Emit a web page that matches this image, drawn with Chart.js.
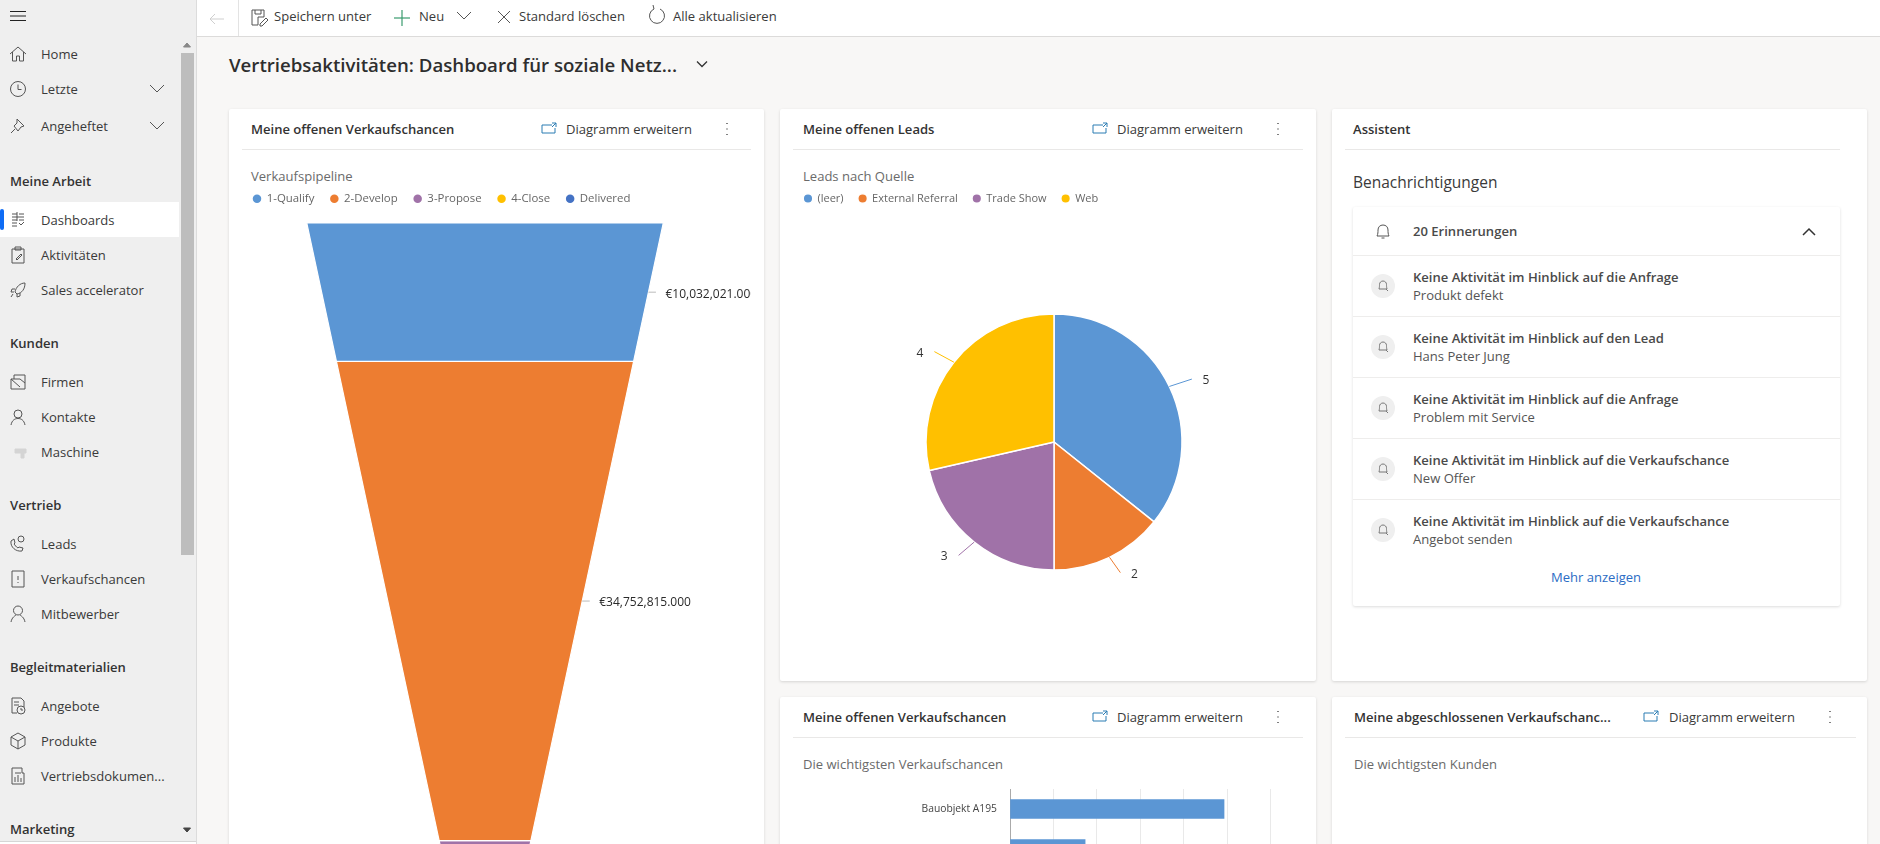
<!DOCTYPE html>
<html lang="de"><head><meta charset="utf-8">
<script src="https://cdn.jsdelivr.net/npm/chart.js@4"></script>
<style>
html,body{margin:0;width:1880px;height:844px;overflow:hidden;background:#f8f7f6;font-family:"Open Sans",sans-serif;color:#333}
.a{position:absolute}
.t{position:absolute;white-space:nowrap;transform:translateY(-50%);font-size:13.05px;line-height:18px;color:#3a3a3a}
.h{font-weight:600;color:#333}
.card{position:absolute;background:#fff;box-shadow:0 1px 3px rgba(0,0,0,.14);border-radius:2px}
canvas{position:absolute;display:block}
svg{position:absolute;overflow:visible;fill:none;stroke:#555;stroke-width:1}
</style></head><body>
<div id="root"></div>
<script>
// ---------- chart data ----------
const funnelStages = ['1-Qualify','2-Develop','3-Propose','4-Close','Delivered'];
const funnelValues = [10032021,34752815,5400000,3100000,1200000];
const funnelColors = ['#5B96D4','#ED7D31','#A072A8','#FFC000','#4472C4'];
const pieLabels = ['(leer)','External Referral','Trade Show','Web'];
const pieValues = [5,2,3,4];
const pieColors = ['#5B96D4','#ED7D31','#A072A8','#FFC000'];
const barCategories = ['Bauobjekt A195',''];
const barValues = [4930000,1730000];
const barColor = '#5B96D4';

const FONT = '"Open Sans", sans-serif';
const root = document.getElementById('root');
function el(tag,cls,css,txt){const e=document.createElement(tag);if(cls)e.className=cls;if(css)e.style.cssText=css;if(txt!=null)e.textContent=txt;root.appendChild(e);return e;}
function box(x,y,w,h,bg,extra){return el('div','a',`left:${x}px;top:${y}px;width:${w}px;height:${h}px;background:${bg};${extra||''}`);}
function text(x,y,s,o){o=o||{};return el('div','t'+(o.b?' h':''),`left:${x}px;top:${y}px;`+(o.size?`font-size:${o.size}px;`:'')+(o.color?`color:${o.color};`:'')+(o.w?`font-weight:${o.w};`:''),s);}
function icon(cx,cy,d,o){o=o||{};const s=document.createElementNS('http://www.w3.org/2000/svg','svg');
  s.setAttribute('width',20);s.setAttribute('height',20);s.setAttribute('viewBox','-10 -10 20 20');
  s.style.cssText=`left:${cx-10}px;top:${cy-10}px;`+(o.stroke?`stroke:${o.stroke};`:'')+(o.sw?`stroke-width:${o.sw};`:'')+(o.fill?`fill:${o.fill};`:'');
  s.innerHTML=d.split('|').map(p=>p.startsWith('c:')?(()=>{const[a,b,c]=p.slice(2).split(',');return `<circle cx="${a}" cy="${b}" r="${c}"/>`})():`<path d="${p}"/>`).join('');
  root.appendChild(s);return s;}

// ---------- sidebar ----------
box(0,0,196,844,'#efefef');
box(196,0,1,844,'#dcdcdc');
box(0,841,196,3,'#fff','border-top:1px solid #d6d6d6');
box(181,53,13,502,'#bdbdbd');
box(0,202,179,35,'#fff');
box(0,209,4,21,'#0f6cf5','border-radius:2px');
icon(187,45,'M-3.5 2L0 -2L3.5 2Z',{stroke:'#888',fill:'#888'});
icon(187,830,'M-3.5 -2L0 2L3.5 -2Z',{stroke:'#444',fill:'#444'});
icon(18,16,'M-8 -4.5H8|M-8 0H8|M-8 4.5H8',{stroke:'#222'});
const ic={
 home:'M-8 0L0 -7L8 0|M-5.5 -2V7H-1.5V2H1.5V7H5.5V-2',
 clock:'c:0,0,7.5|M0 -4.5V0.5H3.5',
 pin:'M-1 -7L6 0L3 1L0 5L-4 0L-1 -3Z|M-3 3L-7 7',
 dash:'M-6 -6H-1|M1 -6H6|M-6 -3H6|M-6 0H-1|M1 0H6|M-6 3H-1|M-6 6H-1|M1 3L3 5L6 2|M-1 -8V1',
 clip:'M-6 -6H6V8H-6Z|M-3 -8H3V-5H-3Z|M-2 4L3 -1L4 0L-1 5Z',
 rocket:'M7 -7C2 -7 -2 -3 -3 2L-1 4C4 3 7 -1 7 -7Z|M-3 -1L-6 -1L-7 2L-4 2|M2 3L2 6L-1 7L-1 4|M-5 4L-7 7',
 firm:'M-7 -3H2L7 1V7H-7Z|M-4 -3V-7H7V1|M-7 -3L2 5',
 person:'c:0,-3,4|M-7 8C-6 3 -3 1.5 0 1.5C3 1.5 6 3 7 8',
 phone:'M-7 -3C-8 3 -2 8 4 7L5 4L1 3L0 4C-2 3 -3 1 -4 0L-3 -1L-4 -5Z|c:3,-5,3',
 door:'M-6 -8H6V8H-6Z|M0 -3V1|M0 3V4',
 comp:'c:0,-3.5,4.5|M-7 8C-6 3 -3 2 -2 1|M7 8C6 3 3 2 2 1',
 doc:'M-6 -8H3L6 -5V1|M-6 -8V7H-1|c:3,4,4|M3 2V4H5|M-4 -4H1|M-4 -1H1',
 cube:'M0 -8L7 -4V4L0 8L-7 4V-4Z|M-7 -4L0 0L7 -4|M0 0V8',
 rep:'M-6 -8H4V-3H6V8H-6Z|M-3 -3H3|M-3 1V6|M0 -1V6|M3 2V6'
};
const chevron='M-7 -4L0 3L7 -4';
[['Home',54,ic.home],['Letzte',89,ic.clock,1],['Angeheftet',126,ic.pin,1],['Dashboards',220,ic.dash],['Aktivitäten',255,ic.clip],['Sales accelerator',290,ic.rocket],
 ['Firmen',382,ic.firm],['Kontakte',417,ic.person],['Maschine',452,null],['Leads',544,ic.phone],['Verkaufschancen',579,ic.door],['Mitbewerber',614,ic.comp],
 ['Angebote',706,ic.doc],['Produkte',741,ic.cube],['Vertriebsdokumen...',776,ic.rep]].forEach(r=>{
  text(41,r[1],r[0]); if(r[2])icon(18,r[1],r[2]); if(r[3])icon(157,r[1],chevron);
});
icon(21,452,'M-6 -3H5V1H3V6H0V1H-6Z',{stroke:'#d4d4d4',fill:'#d4d4d4'});
[['Meine Arbeit',181],['Kunden',343],['Vertrieb',505],['Begleitmaterialien',667],['Marketing',829]].forEach(r=>text(10,r[1],r[0],{b:1}));

// ---------- top bar ----------
box(197,0,1683,36,'#fff');
box(197,36,1683,1,'#dcdbda');
box(238,0,1,36,'#e3e3e3');
icon(217,19,'M7 0H-7|M-2 -5L-7 0L-2 5',{stroke:'#cfcfcf'});
icon(259,18,'M-7 -8H5V-1H-1V7H-7Z|M-4 -8V-4H2V-8|M1 6L7 0L9 2L3 8L1 8Z');
text(274,16,'Speichern unter');
icon(402,18,'M0 -8V8|M-8 0H8',{stroke:'#3a9b6e',sw:1.2});
text(419,16,'Neu');
icon(464,16,chevron);
icon(504,17,'M-6 -6L6 6|M6 -6L-6 6');
text(519,16,'Standard löschen');
icon(657,16,'M-3 -7A7.5 7.5 0 1 0 3 -7|M-3 -7L-4 -11');
text(673,16,'Alle aktualisieren');
text(229,65,'Vertriebsaktivitäten: Dashboard für soziale Netz...',{size:18.65,w:600,color:'#2e2e2e'});
icon(702,64,'M-5 -2.5L0 2.5L5 -2.5',{stroke:'#333',sw:1.3});

// ---------- cards ----------
function card(x,y,w,h){el('div','card',`left:${x}px;top:${y}px;width:${w}px;height:${h}px`);}
function head(x0,x1,y,title,tx,ix,dx,dot){
  text(tx,y,title,{b:1});
  box(x0,y+20,x1-x0,1,'#e9e8e7');
  if(ix){icon(ix,y,'M-7 -4H3|M-7 -4V4H6V-1|M3 -6H7V-2|M7 -6L3 -2',{stroke:'#2b7cb3'});
  text(dx,y,'Diagramm erweitern');
  icon(dot,y,'M0 -6V-5|M0 -0.5V0.5|M0 5V6',{stroke:'#555',sw:1.5});}
}
card(229,109,535,760); card(780,109,536,572); card(1332,109,535,572); card(780,697,536,170); card(1332,697,535,170);
head(242,751,129,'Meine offenen Verkaufschancen',251,549,566,727);
head(793,1303,129,'Meine offenen Leads',803,1100,1117,1278);
head(1345,1840,129,'Assistent',1353);
head(793,1303,717,'Meine offenen Verkaufschancen',803,1100,1117,1278);
head(1345,1856,717,'Meine abgeschlossenen Verkaufschanc...',1354,1651,1669,1830);
const SUB='#6a6a6a';
text(251,176,'Verkaufspipeline',{color:SUB});
text(803,176,'Leads nach Quelle',{color:SUB});
text(803,764,'Die wichtigsten Verkaufschancen',{color:SUB});
text(1354,764,'Die wichtigsten Kunden',{color:SUB});

// ---------- assistant ----------
text(1353,182,'Benachrichtigungen',{size:15.5,w:500});
el('div','card','left:1353px;top:207px;width:487px;height:399px');
text(1413,231,'20 Erinnerungen',{w:600,color:'#4a4a4a'});
icon(1383,232,'M-6 4C-5 2 -5 0 -5 -2C-5 -5 -3 -7 0 -7C3 -7 5 -5 5 -2C5 0 5 2 6 4Z|M-1.5 6H1.5');
icon(1809,232,'M-6 3L0 -3L6 3',{stroke:'#333',sw:1.5});
[255,316,377,438,499].forEach(y=>box(1353,y,487,1,'#eeedec'));
[['Keine Aktivität im Hinblick auf die Anfrage','Produkt defekt'],['Keine Aktivität im Hinblick auf den Lead','Hans Peter Jung'],['Keine Aktivität im Hinblick auf die Anfrage','Problem mit Service'],['Keine Aktivität im Hinblick auf die Verkaufschance','New Offer'],['Keine Aktivität im Hinblick auf die Verkaufschance','Angebot senden']].forEach((r,i)=>{
  const y=277+61*i;
  text(1413,y,r[0],{w:600,color:'#4a4a4a'});
  text(1413,y+18,r[1],{color:'#555'});
  box(1371,y-3,24,24,'#efefef','border-radius:50%');
  icon(1383,y+9,'M-4 3C-3.5 1 -3.5 0 -3.5 -1.5C-3.5 -3.5 -2 -5 0 -5C2 -5 3.5 -3.5 3.5 -1.5C3.5 0 3.5 1 4 3Z|M3 3L5 5',{stroke:'#777'});
});
text(0,577,'Mehr anzeigen',{color:'#2b6cc4'}).style.cssText+=';left:1596px;transform:translate(-50%,-50%)';

// ---------- charts ----------
function canvas(x,y,w,h){const c=document.createElement('canvas');c.width=w;c.height=h;c.style.cssText=`left:${x}px;top:${y}px;width:${w}px;height:${h}px`;root.appendChild(c);return c;}
Chart.defaults.font.family=FONT;
Chart.defaults.animation=false;
const legendOpts=(bh,size,pad)=>({display:true,position:'top',align:'start',labels:{usePointStyle:true,boxWidth:8,boxHeight:bh,padding:pad,color:'#666',font:{size:size,family:FONT}}});
function legendExtra(extra){return {id:'legendExtra',beforeInit(chart){const f=chart.legend.fit;chart.legend.fit=function(){f.call(this);this.height+=extra;};}};}

// funnel: y axis is the running total in €, x axis the half width in the same unit
const FUNNEL_APEX=60300000, FUNNEL_TAPER=0.2145;
const halfWidth=v=>(FUNNEL_APEX-v)*FUNNEL_TAPER;
let running=0;
const funnelSets=funnelValues.map((v,i)=>{
  const a=running,b=running+v;running=b;
  return {label:funnelStages[i],backgroundColor:funnelColors[i],borderColor:'#fff',borderWidth:1.2,
    pointRadius:0,pointBorderWidth:0,pointStyle:'circle',pointBackgroundColor:funnelColors[i],showLine:true,fill:'shape',tension:0,
    data:[{x:-halfWidth(a),y:a},{x:halfWidth(a),y:a},{x:halfWidth(b),y:b},{x:-halfWidth(b),y:b},{x:-halfWidth(a),y:a}]};
});
const fmtEuro=v=>'€'+v.toLocaleString('en-US')+'.000';
const funnelLabels={id:'funnelLabels',afterDatasetsDraw(chart){
  const c=chart.ctx,X=chart.scales.x,Y=chart.scales.y;let s=0;
  c.save();c.beginPath();c.rect(0,0,chart.width,chart.height);c.clip();
  funnelValues.forEach((v,i)=>{
    const m=s+v/2;s+=v;
    const px=X.getPixelForValue(halfWidth(m)),py=Y.getPixelForValue(m);
    c.strokeStyle='#bbb';c.lineWidth=1;c.beginPath();c.moveTo(px,py);c.lineTo(px+7.5,py);c.stroke();
    c.fillStyle='#2a2a2a';c.font='12px '+FONT;c.textBaseline='middle';c.textAlign='left';c.fillText(fmtEuro(v),px+17,py+2);
  });c.restore();
}};
new Chart(canvas(237,177,514,846),{type:'scatter',data:{datasets:funnelSets},plugins:[legendExtra(8.6),funnelLabels],
  options:{responsive:false,devicePixelRatio:1,layout:{padding:0},plugins:{legend:legendOpts(6,11.4,16),tooltip:{enabled:false}},
    scales:{x:{type:'linear',display:false,min:-17997000,max:19300000},y:{type:'linear',display:false,reverse:true,min:0,max:58000000}}}});

// pie
const pieLeaders={id:'pieLeaders',afterDatasetsDraw(chart){
  const c=chart.ctx;
  chart.getDatasetMeta(0).data.forEach((arc,i)=>{
    const p=arc.getProps(['x','y','startAngle','endAngle','outerRadius']);
    const m=(p.startAngle+p.endAngle)/2;
    const x0=p.x+Math.cos(m)*p.outerRadius,y0=p.y+Math.sin(m)*p.outerRadius;
    const x1=x0+Math.cos(m)*25,y1=y0+Math.sin(m)*17;
    c.strokeStyle=pieColors[i];c.lineWidth=1;c.beginPath();c.moveTo(x0,y0);c.lineTo(x1,y1);c.stroke();
    c.fillStyle='#333';c.font='12px '+FONT;c.textAlign='center';c.textBaseline='middle';
    c.fillText(String(pieValues[i]),x1+(Math.cos(m)>0?14:-14.5),y1+1.5);
  });
}};
new Chart(canvas(789,178,530,492),{type:'pie',data:{labels:pieLabels,datasets:[{data:pieValues,backgroundColor:pieColors,borderColor:'#fff',borderWidth:1.5,radius:128}]},plugins:[pieLeaders],
  options:{responsive:false,devicePixelRatio:1,plugins:{legend:legendOpts(6.8,11,15),tooltip:{enabled:false}}}});

// bar
new Chart(canvas(793,789,480,80),{type:'bar',data:{labels:barCategories,datasets:[{data:barValues,backgroundColor:barColor,barThickness:19,borderWidth:0}]},
  options:{indexAxis:'y',responsive:false,devicePixelRatio:1,layout:{padding:{right:2.5,top:0,bottom:0}},plugins:{legend:{display:false},tooltip:{enabled:false}},
    scales:{x:{min:0,max:6000000,ticks:{display:false,stepSize:1000000},grid:{color:'#e9e9e9',drawTicks:false},border:{display:false}},
      y:{afterFit(s){s.width=217;s.paddingTop=0;s.paddingBottom=0;},ticks:{color:'#444',font:{size:10.3,family:FONT},padding:13},grid:{display:false,drawTicks:false},border:{color:'#aaa'}}}}});
</script>
</body></html>
